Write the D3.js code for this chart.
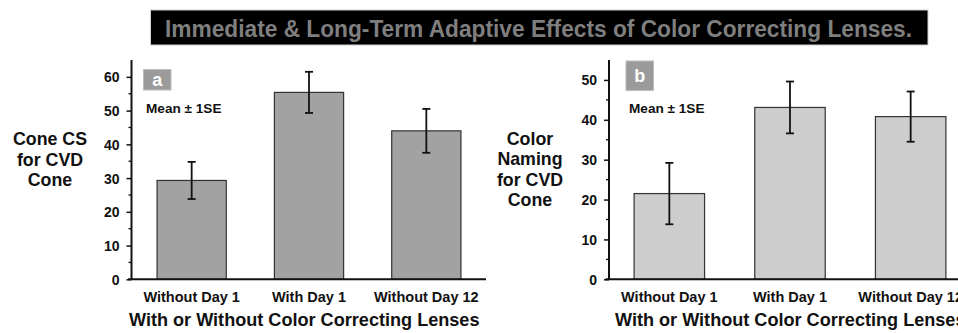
<!DOCTYPE html>
<html>
<head>
<meta charset="utf-8">
<script src="https://cdn.jsdelivr.net/npm/d3@7"></script>
<style>
  html, body { margin: 0; padding: 0; background: #fff; }
  svg { display: block; }
  text { font-family: "Liberation Sans", Arial, sans-serif; font-weight: bold; }
</style>
</head>
<body>
<svg id="chart" width="958" height="333"></svg>
<script>
// ---- data ----
const titleText = "Immediate & Long-Term Adaptive Effects of Color Correcting Lenses.";
const categories = ["Without Day 1", "With Day 1", "Without Day 12"];
const coneCSMean = [29.3, 55.4, 44.0];
const coneCSSE = [5.5, 6.1, 6.5];
const coneCSTicks = [0, 10, 20, 30, 40, 50, 60];
const namingMean = [21.5, 43.1, 40.8];
const namingSE = [7.7, 6.5, 6.3];
const namingTicks = [0, 10, 20, 30, 40, 50];
const xAxisTitle = "With or Without Color Correcting Lenses";
const leftYLabel = ["Cone CS", "for CVD", "Cone"];
const rightYLabel = ["Color", "Naming", "for CVD", "Cone"];
const seLabel = "Mean \u00B1 1SE";

const svg = d3.select("#chart");

function drawPanel(g, cfg) {
  const y = d3.scaleLinear().domain([0, cfg.yMax]).range([279.3, 60]);
  const x = d3.scaleBand().domain(categories).range(cfg.xRange)
    .paddingInner(cfg.padIn).paddingOuter(cfg.padIn / 2);

  // bars
  g.selectAll("rect.bar").data(categories).join("rect")
    .attr("class", "bar")
    .attr("x", d => x(d))
    .attr("width", x.bandwidth())
    .attr("y", (d, i) => y(cfg.mean[i]))
    .attr("height", (d, i) => y(0) - y(cfg.mean[i]))
    .attr("fill", cfg.fill)
    .attr("stroke", "#333")
    .attr("stroke-width", 1.2);

  // error bars
  const eb = g.selectAll("g.err").data(categories).join("g").attr("class", "err");
  eb.append("line")
    .attr("x1", d => x(d) + x.bandwidth() / 2).attr("x2", d => x(d) + x.bandwidth() / 2)
    .attr("y1", (d, i) => y(cfg.mean[i] + cfg.se[i]))
    .attr("y2", (d, i) => y(cfg.mean[i] - cfg.se[i]))
    .attr("stroke", "#111").attr("stroke-width", 1.8);
  [1, -1].forEach(s => {
    eb.append("line")
      .attr("x1", d => x(d) + x.bandwidth() / 2 - 4).attr("x2", d => x(d) + x.bandwidth() / 2 + 4)
      .attr("y1", (d, i) => y(cfg.mean[i] + s * cfg.se[i]))
      .attr("y2", (d, i) => y(cfg.mean[i] + s * cfg.se[i]))
      .attr("stroke", "#111").attr("stroke-width", 1.8);
  });

  // y axis (major ticks)
  const yAxis = d3.axisLeft(y).tickValues(cfg.ticks).tickSize(5).tickPadding(7).tickSizeOuter(0);
  const ya = g.append("g").attr("transform", `translate(${cfg.axisX},0)`).call(yAxis);
  ya.select(".domain").remove();
  ya.selectAll(".tick line").attr("stroke", "#111").attr("stroke-width", 1.5);
  ya.selectAll(".tick text").attr("font-size", 14).attr("fill", "#111").attr("dy", "0.36em")
    .style("font-family", '"Liberation Sans", Arial, sans-serif').style("font-weight", "bold");
  // minor ticks
  const minor = d3.range(5, cfg.yMax, 10);
  g.selectAll("line.minor").data(minor).join("line").attr("class", "minor")
    .attr("x1", cfg.axisX - 3).attr("x2", cfg.axisX)
    .attr("y1", d => y(d)).attr("y2", d => y(d))
    .attr("stroke", "#111").attr("stroke-width", 1.3);
  // y axis line
  g.append("line").attr("x1", cfg.axisX).attr("x2", cfg.axisX)
    .attr("y1", y(cfg.yMax)).attr("y2", y(0))
    .attr("stroke", "#111").attr("stroke-width", 2);
  // x axis line
  g.append("line").attr("x1", cfg.axisX - 3.5).attr("x2", cfg.xLineEnd)
    .attr("y1", y(0)).attr("y2", y(0))
    .attr("stroke", "#111").attr("stroke-width", 2);

  // category labels
  g.selectAll("text.cat").data(categories).join("text").attr("class", "cat")
    .attr("x", d => x(d) + x.bandwidth() / 2)
    .attr("y", 301.5)
    .attr("text-anchor", "middle")
    .attr("font-size", 14.5).attr("fill", "#111")
    .text(d => d);

  // x axis title
  g.append("text").attr("x", cfg.xTitleX).attr("y", 325.5)
    .attr("font-size", 18.1).attr("fill", "#111")
    .attr("text-anchor", "start")
    .text(xAxisTitle);

  // y label
  g.append("text").attr("text-anchor", "middle").attr("font-size", 17.8).attr("fill", "#111")
    .selectAll("tspan").data(cfg.yLabel).join("tspan")
    .attr("x", cfg.yLabelX).attr("y", (d, i) => cfg.yLabelY + i * cfg.yLabelStep)
    .text(d => d);

  // panel letter box
  g.append("rect").attr("x", cfg.box[0]).attr("y", cfg.box[1])
    .attr("width", cfg.box[2]).attr("height", cfg.box[3])
    .attr("fill", "#9b9b9b").attr("stroke", "#bcbcbc").attr("stroke-width", 1);
  g.append("text").attr("x", cfg.box[0] + cfg.box[2] / 2).attr("y", cfg.box[1] + cfg.box[3] / 2 + 6.5)
    .attr("text-anchor", "middle").attr("font-size", 18).attr("fill", "#fff")
    .text(cfg.letter);

  // Mean ± 1SE
  g.append("text").attr("x", cfg.seX).attr("y", 112.5)
    .attr("font-size", 13.6).attr("fill", "#111").text(seLabel);
}

// clip for left panel
const defs = svg.append("defs");
defs.append("clipPath").attr("id", "clipL").append("rect")
  .attr("x", 0).attr("y", 0).attr("width", 486).attr("height", 333);

const gL = svg.append("g").attr("clip-path", "url(#clipL)");
drawPanel(gL, {
  yMax: 65, ticks: coneCSTicks, mean: coneCSMean, se: coneCSSE,
  xRange: [133, 485], padIn: 0.41, axisX: 131.5, xLineEnd: 486,
  fill: "#a2a2a2", xTitleX: 129,
  yLabel: leftYLabel, yLabelX: 50, yLabelY: 145, yLabelStep: 20.5,
  box: [143.5, 69.5, 27.5, 20.5], letter: "a", seX: 146
});

const gR = svg.append("g");
drawPanel(gR, {
  yMax: 55, ticks: namingTicks, mean: namingMean, se: namingSE,
  xRange: [609, 971], padIn: 0.416, axisX: 609, xLineEnd: 960,
  fill: "#cdcdcd", xTitleX: 615,
  yLabel: rightYLabel, yLabelX: 530, yLabelY: 145, yLabelStep: 20.3,
  box: [626, 61, 27.5, 29.5], letter: "b", seX: 629
});

// title
svg.append("rect").attr("x", 150.5).attr("y", 10).attr("width", 777.5).attr("height", 35)
  .attr("fill", "#000").attr("stroke", "#cfcfcf").attr("stroke-width", 1);
svg.append("text").attr("x", 165).attr("y", 36.5)
  .attr("font-size", 23).attr("fill", "#7f7f7f")
  .style("font-family", '"Liberation Sans Narrow", "Liberation Sans", Arial, sans-serif')
  .attr("textLength", 747).attr("lengthAdjust", "spacingAndGlyphs")
  .text(titleText);
</script>
</body>
</html>
